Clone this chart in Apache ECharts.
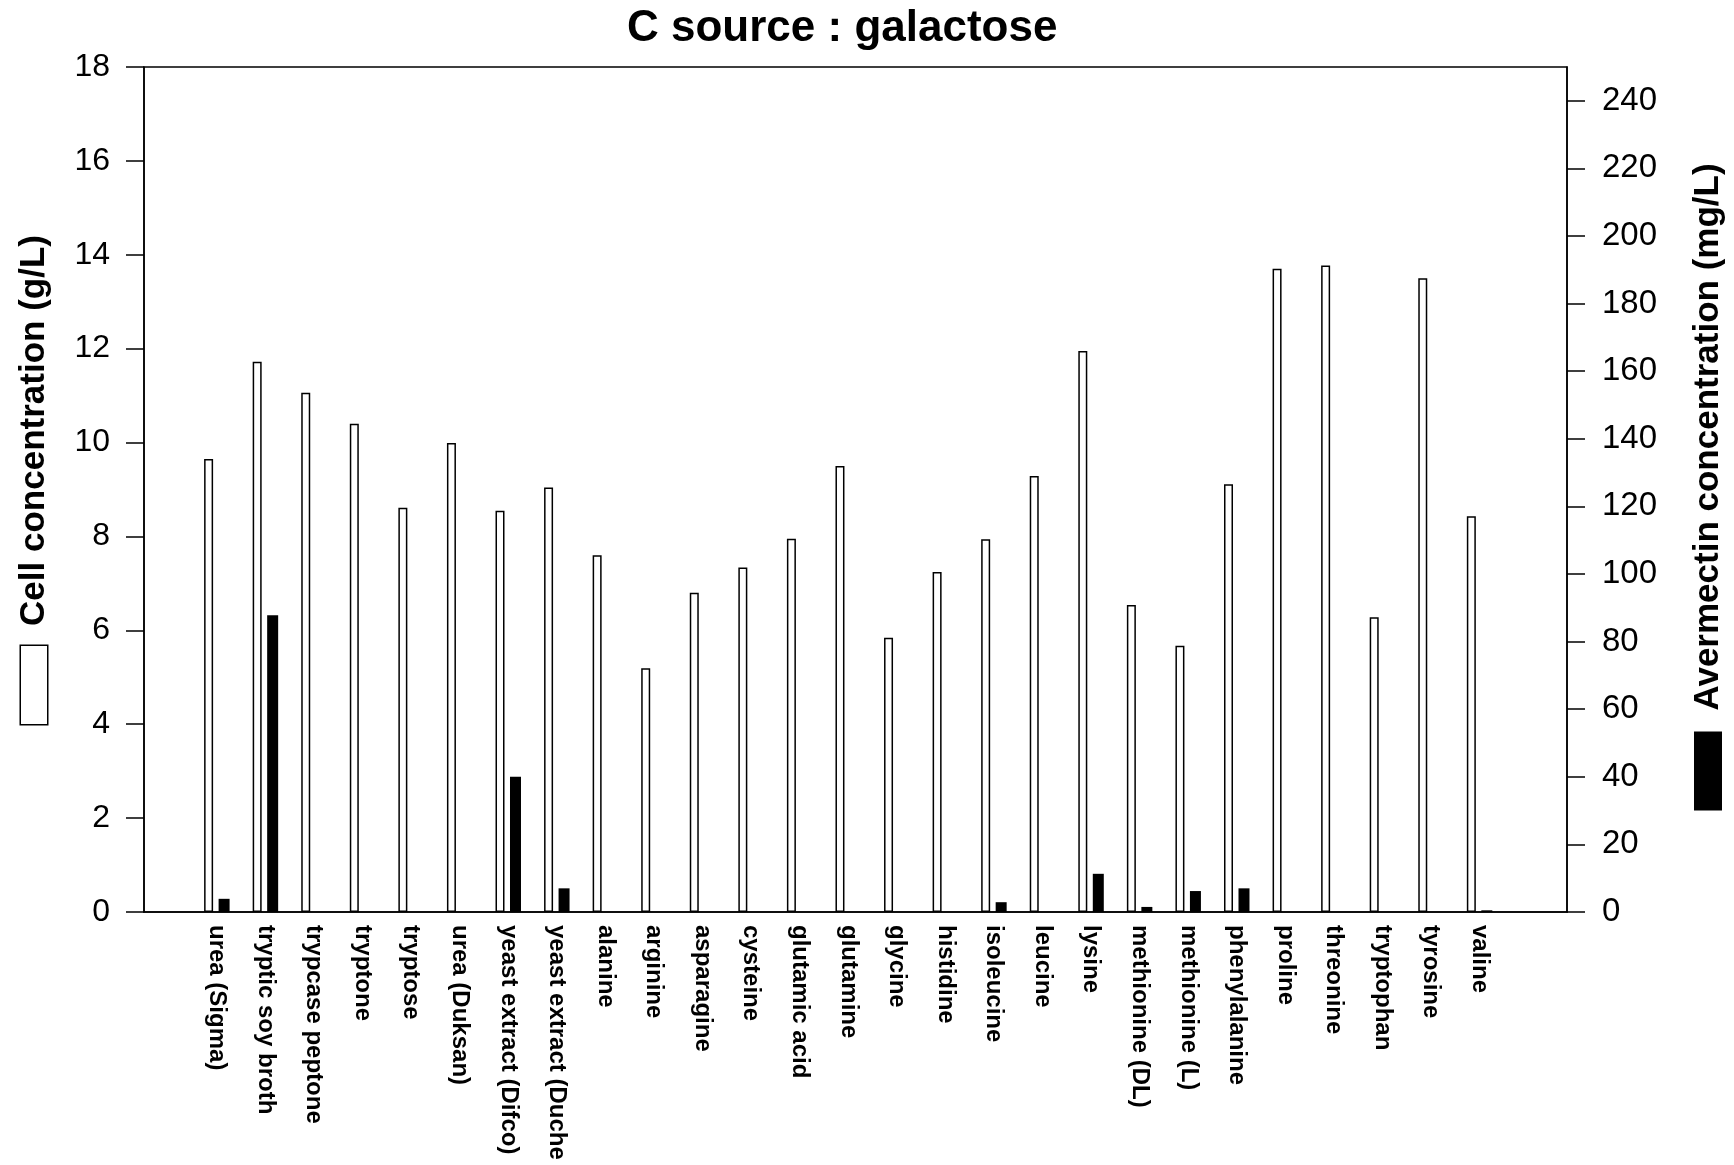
<!DOCTYPE html>
<html>
<head>
<meta charset="utf-8">
<script src="https://cdn.jsdelivr.net/npm/echarts@6/dist/echarts.min.js"></script>
<style>
html,body{margin:0;padding:0;background:#fff;}
#chart{width:1734px;height:1165px;}
</style>
</head>
<body>
<div id="chart"></div>
<script>
const categories = ['urea (Sigma)','tryptic soy broth','trypcase peptone','tryptone','tryptose','urea (Duksan)','yeast extract (Difco)','yeast extract (Duche','alanine','arginine','asparagine','cysteine','glutamic acid','glutamine','glycine','histidine','isoleucine','leucine','lysine','methionine (DL)','methionine (L)','phenylalanine','proline','threonine','tryptophan','tyrosine','valine'];
const cellConc = [9.65, 11.72, 11.06, 10.40, 8.61, 9.99, 8.55, 9.04, 7.60, 5.19, 6.80, 7.34, 7.95, 9.50, 5.84, 7.24, 7.94, 9.29, 11.95, 6.54, 5.67, 9.11, 13.70, 13.77, 6.28, 13.50, 8.43];
const avermectin = [3.9, 87.8, 0, 0, 0, 0, 40.0, 7.0, 0, 0, 0, 0, 0, 0, 0, 0, 2.9, 0, 11.3, 1.5, 6.2, 7.0, 0, 0, 0, 0, 0.5];
const leftTicks = [0, 2, 4, 6, 8, 10, 12, 14, 16, 18];
const rightTicks = [0, 20, 40, 60, 80, 100, 120, 140, 160, 180, 200, 220, 240];

const FONT = '"Liberation Sans", Arial, Helvetica, sans-serif';
const positions = categories.map((c, i) => i);

const chart = echarts.init(document.getElementById('chart'), null, {renderer: 'canvas'});
chart.setOption({
  animation: false,
  backgroundColor: '#fff',
  title: {
    text: 'C source : galactose',
    left: 622,
    top: 2,
    textStyle: {fontFamily: FONT, fontWeight: 'bold', fontSize: 44, color: '#000'}
  },
  grid: {
    left: 144, right: 167, top: 67, bottom: 253,
    show: true, borderColor: '#000', borderWidth: 1.5, backgroundColor: 'transparent',
    containLabel: false, outerBoundsMode: 'none'
  },
  xAxis: {
    type: 'value',
    min: -1.5,
    max: 27.8,
    axisLine: {show: true, onZero: false, lineStyle: {color: '#000', width: 1.5}},
    axisTick: {show: false},
    splitLine: {show: false},
    axisLabel: {
      customValues: positions,
      formatter: v => categories[Math.round(v)] || '',
      rotate: -90,
      margin: 13,
      fontFamily: FONT, fontWeight: 'bold', fontSize: 24, color: '#000',
      hideOverlap: false
    }
  },
  yAxis: [
    {
      type: 'value', position: 'left', min: 0, max: 18, interval: 2,
      name: '{box|}{sp|}Cell concentration (g/L)',
      nameLocation: 'middle', nameRotate: 90, nameGap: 92,
      nameTextStyle: {
        fontFamily: FONT, fontWeight: 'bold', fontSize: 35, color: '#000', lineHeight: 36,
        padding: [0, 0, 0, 20],
        rich: {
          box: {width: 78, height: 26, backgroundColor: '#fff', borderColor: '#000', borderWidth: 1.5},
          sp: {width: 20, height: 26}
        }
      },
      axisLine: {show: true, onZero: false, lineStyle: {color: '#000', width: 1.5}},
      axisTick: {show: true, inside: false, length: 18, lineStyle: {color: '#000', width: 1.5}},
      splitLine: {show: false},
      axisLabel: {
        customValues: leftTicks,
        margin: 34, fontFamily: FONT, fontSize: 32, color: '#000'
      }
    },
    {
      type: 'value', position: 'right', min: 0, max: 250,
      name: '{box|}{sp|}Avermectin concentration (mg/L)',
      nameLocation: 'middle', nameRotate: 90, nameGap: 123,
      nameTextStyle: {
        fontFamily: FONT, fontWeight: 'bold', fontSize: 35, color: '#000', lineHeight: 36,
        padding: [0, 0, 0, 6],
        rich: {
          box: {width: 77, height: 26, backgroundColor: '#000', borderColor: '#000', borderWidth: 1},
          sp: {width: 22, height: 26}
        }
      },
      axisLine: {show: true, onZero: false, lineStyle: {color: '#000', width: 1.5}},
      axisTick: {show: true, inside: false, length: 18, customValues: rightTicks, lineStyle: {color: '#000', width: 1.5}},
      splitLine: {show: false},
      axisLabel: {
        customValues: rightTicks,
        margin: 35, fontFamily: FONT, fontSize: 33, color: '#000'
      }
    }
  ],
  series: [
    {
      name: 'Cell concentration',
      type: 'bar',
      xAxisIndex: 0, yAxisIndex: 0,
      barWidth: 9, barGap: '61%',
      data: cellConc.map((v, i) => [positions[i], v]),
      itemStyle: {color: '#fff', borderColor: '#000', borderWidth: 1.5}
    },
    {
      name: 'Avermectin concentration',
      type: 'bar',
      xAxisIndex: 0, yAxisIndex: 1,
      barWidth: 11, barGap: '61%',
      data: avermectin.map((v, i) => [positions[i], v]),
      itemStyle: {color: '#000'}
    }
  ]
});
</script>
</body>
</html>
